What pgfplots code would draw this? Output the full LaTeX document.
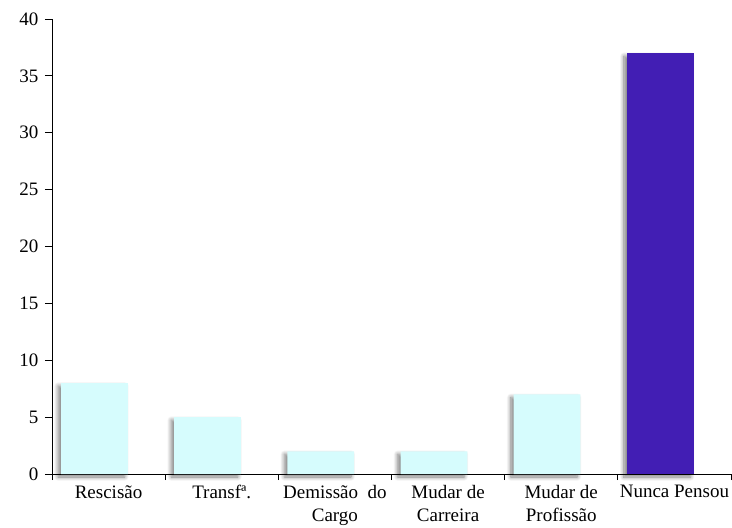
\documentclass[border=0pt]{standalone}
\usepackage{fontspec}
\setmainfont{Liberation Serif}
\usepackage{pgfplots}
\pgfplotsset{compat=1.18}
\usetikzlibrary{shadows.blur}
\definecolor{paleCyan}{HTML}{D6FCFD}
\definecolor{deepViolet}{HTML}{421EB4}

\begin{document}
\begin{tikzpicture}
\begin{axis}[
  at={(0,0)}, anchor=south west,
  scale only axis, width=679pt, height=455pt,
  xmin=-0.5, xmax=5.5, ymin=0, ymax=40,
  axis lines*=left,
  axis line style={black, line width=0.8pt},
  tick align=outside,
  tick style={black, line width=0.8pt},
  xtick={0,...,5},
  major x tick style={draw=none},
  minor xtick={-0.5,0.5,...,5.5},
  minor tick length=6pt,
  major tick length=7pt,
  ytick={0,5,...,40},
  xticklabels={Rescisão, Transfª., {Demissão\ \ do\\Cargo}, {Mudar de\\Carreira}, {Mudar de\\Profissão}, Nunca Pensou},
  xticklabel style={align=center, font=\fontsize{19}{22.5}\selectfont, yshift=-1pt},
  yticklabel style={font=\fontsize{19}{21}\selectfont, xshift=-3pt},
  /pgf/number format/assume math mode=true,
  clip=false,
]
\addplot[ybar, bar width=0.59, bar shift=-0.125, fill=paleCyan, draw=none,
  blur shadow={shadow xshift=-3pt, shadow yshift=-3pt, shadow blur radius=4pt, shadow blur steps=10, shadow opacity=50}]
  coordinates {(0,8) (1,5) (2,2) (3,2) (4,7)};
\addplot[ybar, bar width=0.59, bar shift=-0.125, fill=deepViolet, draw=none,
  blur shadow={shadow xshift=-3pt, shadow yshift=-3pt, shadow blur radius=4pt, shadow blur steps=10, shadow opacity=50}]
  coordinates {(5,37)};
\end{axis}
\pgfresetboundingbox
\path (-52pt,-54pt) rectangle (680pt,474pt);
\end{tikzpicture}
\end{document}
